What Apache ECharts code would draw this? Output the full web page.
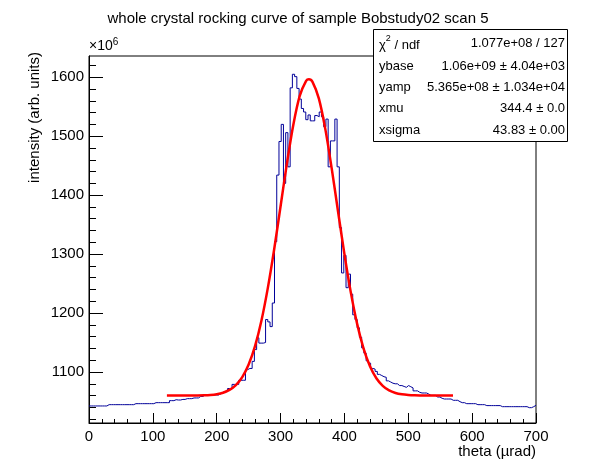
<!DOCTYPE html>
<html>
<head>
<meta charset="utf-8">
<title>rocking curve</title>
<script src="https://cdn.jsdelivr.net/npm/echarts@6/dist/echarts.min.js"></script>
<style>
  html, body { margin: 0; padding: 0; background: #fff; }
  #chart { width: 596px; height: 472px; }
</style>
</head>
<body>
<div id="chart"></div>
<script>
// histogram: 200 bins of 3.5 urad from 0 to 700, contents in units of 1e6
var binWidth = 3.5;
var counts = [
  1042.4, 1042.4, 1042.4, 1042.4, 1042.4, 1042.4, 1042.4, 1042.4, 1044.6, 1044.6,
  1044.6, 1044.6, 1044.6, 1044.6, 1044.6, 1044.6, 1044.6, 1044.6, 1044.6, 1044.6,
  1046.3, 1046.3, 1046.3, 1046.3, 1046.3, 1046.3, 1046.3, 1046.3, 1046.3, 1048,
  1048, 1048, 1048, 1048, 1048, 1048, 1051.4, 1051.4, 1053, 1052.5,
  1052.5, 1053.5, 1053.5, 1054.8, 1054.8, 1054.8, 1056, 1056, 1056, 1058.6,
  1058.6, 1061, 1061, 1061, 1061, 1061, 1061, 1061, 1063, 1066,
  1065, 1068, 1072, 1072, 1079, 1079, 1079, 1086, 1086, 1086,
  1104, 1106, 1106, 1118, 1138, 1158, 1149, 1149, 1150, 1189,
  1185, 1177, 1217, 1321, 1434, 1491, 1520, 1420, 1506, 1448,
  1582, 1605, 1601, 1581, 1563, 1547, 1541, 1528, 1536, 1526,
  1526, 1535, 1533, 1541, 1533, 1516, 1529, 1448, 1492, 1492,
  1529, 1448, 1345, 1268, 1298, 1243, 1266, 1232, 1197, 1189,
  1175, 1159, 1141, 1132, 1119, 1115, 1106, 1105, 1101, 1096,
  1094, 1092, 1091, 1085, 1083, 1081, 1080, 1080, 1077, 1077,
  1075.5, 1074, 1077, 1075, 1073, 1068, 1068, 1065.5, 1064.4, 1064.4,
  1064.4, 1062.7, 1060.4, 1060.4, 1060.4, 1057.6, 1057.6, 1055.4, 1054.2, 1054.2,
  1054.2, 1054.2, 1052, 1052, 1052, 1049.7, 1048, 1048, 1046.3, 1046.3,
  1046.3, 1046.3, 1046.3, 1044.6, 1044.6, 1044.6, 1044.6, 1043, 1043, 1043,
  1043, 1043, 1043, 1043, 1041.2, 1041.2, 1041.2, 1041.2, 1041.2, 1041.2,
  1041.2, 1041.2, 1041.2, 1041.2, 1041.2, 1041.2, 1039.5, 1039.5, 1041.2, 1043.5
];

// fitted gaussian
var fitTheta = [122, 130, 140, 150, 160, 170, 180, 190, 200, 210, 220, 230, 240, 250, 260,
  270, 280, 290, 300, 310, 320, 330, 340, 344.4, 350, 360, 370, 380, 390, 400, 410, 420,
  430, 440, 450, 460, 470, 480, 490, 500, 510, 520, 530, 540, 550, 560, 570];
var fitValues = [1060.0, 1060.0, 1060.0, 1060.0, 1060.1, 1060.2, 1060.5, 1061.1, 1062.4,
  1064.9, 1069.6, 1077.8, 1091.4, 1112.8, 1144.0, 1187.0, 1242.3, 1308.3, 1381.2, 1454.3,
  1519.5, 1568.3, 1593.8, 1596.5, 1592.1, 1563.6, 1512.4, 1445.8, 1372.3, 1300.0, 1235.1,
  1181.2, 1139.7, 1109.7, 1089.4, 1076.6, 1068.8, 1064.5, 1062.2, 1061.0, 1060.4, 1060.2,
  1060.1, 1060.0, 1060.0, 1060.0, 1060.0];

var yMajorTicks = [1100, 1200, 1300, 1400, 1500, 1600];
var yMinorTicks = [1020, 1040, 1060, 1080, 1120, 1140, 1160, 1180, 1220, 1240, 1260, 1280,
  1320, 1340, 1360, 1380, 1420, 1440, 1460, 1480, 1520, 1540, 1560, 1580, 1620];

var statNames = ['{n|\u03c7}{s|2}{n| / ndf}', 'ybase', 'yamp', 'xmu', 'xsigma'];
var statValues = ['1.077e+08 / 127', '1.06e+09 \u00b1 4.04e+03', '5.365e+08 \u00b1 1.034e+04',
  '344.4 \u00b1 0.0', '43.83 \u00b1 0.00'];

var FONT = '"Liberation Sans", Arial, Helvetica, sans-serif';

var histData = counts.map(function (v, i) { return [i * binWidth, v]; });
histData.push([counts.length * binWidth, counts[counts.length - 1]]);
var fitData = fitTheta.map(function (t, i) { return [t, fitValues[i]]; });

var statElems = [{
  type: 'rect',
  shape: { x: 0.5, y: 0.5, width: 194, height: 112 },
  style: { fill: '#fff', stroke: '#000', lineWidth: 1 }
}];
var rowY = [14, 37, 58, 79.5, 101];
statNames.forEach(function (name, i) {
  statElems.push({
    type: 'text', x: 6, y: rowY[i],
    style: {
      text: name, fill: '#000', font: '13px ' + FONT, verticalAlign: 'middle',
      rich: {
        n: { fontSize: 13, fontFamily: FONT, lineHeight: 17, verticalAlign: 'bottom' },
        s: { fontSize: 9, fontFamily: FONT, lineHeight: 17, verticalAlign: 'top' }
      }
    }
  });
  statElems.push({
    type: 'text', x: 192, y: rowY[i],
    style: { text: statValues[i], fill: '#000', font: '13px ' + FONT, align: 'right', verticalAlign: 'middle' }
  });
});

var chart = echarts.init(document.getElementById('chart'), null, { renderer: 'canvas' });
chart.setOption({
  backgroundColor: '#fff',
  animation: false,
  title: {
    text: 'whole crystal rocking curve of sample Bobstudy02 scan 5',
    left: 'center', top: 6,
    textStyle: { fontFamily: FONT, fontSize: 15, fontWeight: 'normal', color: '#000' }
  },
  grid: {
    left: 89, right: 60, top: 56, bottom: 49,
    show: true, borderColor: '#000', borderWidth: 1, backgroundColor: 'transparent'
  },
  xAxis: {
    type: 'value', min: 0, max: 700, interval: 100,
    axisLine: { lineStyle: { color: '#000', width: 1 } },
    axisTick: { inside: true, length: 10, lineStyle: { color: '#000' } },
    minorTick: { show: true, splitNumber: 5, length: 4, lineStyle: { color: '#000' } },
    splitLine: { show: false },
    axisLabel: { color: '#000', fontFamily: FONT, fontSize: 15, margin: 6, showMaxLabel: true }
  },
  yAxis: [{
    type: 'value', min: 1013.5, max: 1636,
    axisLine: { show: true, lineStyle: { color: '#000', width: 1 } },
    axisTick: { inside: true, length: 14, customValues: yMajorTicks, lineStyle: { color: '#000' } },
    splitLine: { show: false },
    axisLabel: {
      color: '#000', fontFamily: FONT, fontSize: 15, margin: 5, customValues: yMajorTicks,
      formatter: function (v) { return String(v); }
    }
  }, {
    type: 'value', min: 1013.5, max: 1636, position: 'left',
    axisLine: { show: false },
    axisTick: { show: true, inside: true, length: 7, customValues: yMinorTicks, lineStyle: { color: '#000' } },
    axisLabel: { show: false },
    splitLine: { show: false }
  }],
  series: [{
    type: 'line', name: 'hist', data: histData, step: 'end',
    showSymbol: false, symbol: 'none', clip: true,
    lineStyle: { color: '#000099', width: 1 }, z: 2
  }, {
    type: 'line', name: 'fit', data: fitData, smooth: 0.3,
    showSymbol: false, symbol: 'none', clip: true,
    lineStyle: { color: '#ff0000', width: 2.5 }, z: 3
  }],
  graphic: [{
    type: 'text', x: 89, y: 53,
    style: {
      text: '{a|\u00d710}{b|6}', fill: '#000', verticalAlign: 'bottom',
      rich: {
        a: { fontSize: 14, fontFamily: FONT, lineHeight: 16, verticalAlign: 'bottom' },
        b: { fontSize: 10, fontFamily: FONT, lineHeight: 16, verticalAlign: 'top' }
      }
    }
  }, {
    type: 'text', x: 35, y: 52, rotation: Math.PI / 2,
    style: { text: 'intensity (arb. units)', fill: '#000', font: '15px ' + FONT, align: 'right', verticalAlign: 'middle' }
  }, {
    type: 'text', x: 536, y: 452,
    style: { text: 'theta (\u00b5rad)', fill: '#000', font: '15px ' + FONT, align: 'right', verticalAlign: 'middle' }
  }, {
    type: 'group', x: 373, y: 29, z: 100,
    children: statElems
  }]
});
</script>
</body>
</html>
